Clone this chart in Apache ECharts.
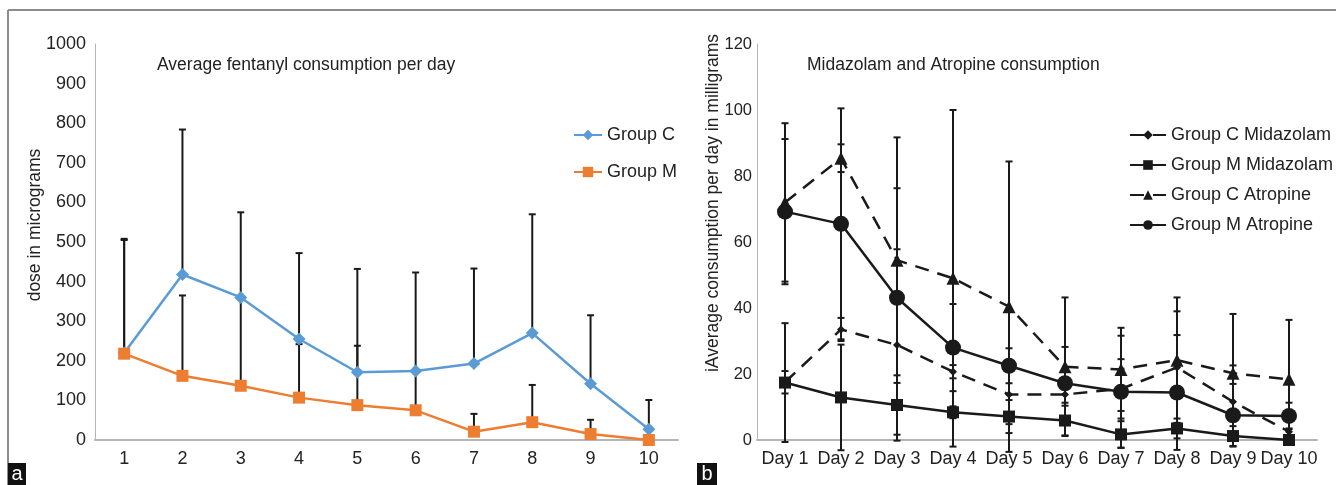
<!DOCTYPE html>
<html>
<head>
<meta charset="utf-8">
<script src="https://cdn.jsdelivr.net/npm/echarts@6/dist/echarts.min.js"></script>
<style>
  html, body { margin: 0; padding: 0; background: #fff; }
  #chart { width: 1336px; height: 485px; }
</style>
</head>
<body>
<div id="chart"></div>
<script>
// panel a: fentanyl, micrograms
var fentDays = ['1', '2', '3', '4', '5', '6', '7', '8', '9', '10'];
var groupC = [220, 418, 360, 255, 171, 174, 193, 270, 142, 27];
var groupCUpper = [508, 784, 575, 472, 432, 423, 433, 570, 315, 101];
var groupM = [218, 162, 137, 107, 88, 75, 21, 45, 15, 0];
var groupMUpper = [505, 365, 355, 242, 238, 175, 66, 139, 51, 0];

// panel b: midazolam / atropine, milligrams (mean and +/- error)
var dayLabels = ['Day 1', 'Day 2', 'Day 3', 'Day 4', 'Day 5', 'Day 6', 'Day 7', 'Day 8', 'Day 9', 'Day 10'];
var cMidaz = [17.5, 33.5, 28.8, 20.7, 13.8, 13.8, 15.5, 22, 11.6, 2.5];
var cMidazErr = [3.4, 3.5, 29, 2, 9, 2.5, 9, 17, 11, 1];
var mMidaz = [17.4, 12.9, 10.6, 8.4, 7.1, 5.9, 1.7, 3.5, 1.2, 0];
var mMidazErr = [18, 16, 9, 1.8, 5, 4.5, 4, 3, 3, 0];
var cAtro = [72, 85.4, 54.5, 49, 40.4, 22.2, 21.4, 24.2, 20.2, 18.4];
var cAtroErr = [24, 4.2, 37.2, 51, 44, 21, 12.6, 19, 18, 18];
var mAtro = [69.2, 65.5, 43.1, 28, 22.5, 17.2, 14.6, 14.4, 7.5, 7.3];
var mAtroErr = [22, 35, 33.2, 13.2, 5.3, 11, 17, 17.4, 9.5, 4];

var FONT = 'Liberation Sans, Arial, sans-serif';
var INK = '#1a1a1a';
var TXT = '#222';

function upperBars(mean, upper) {
    var out = [];
    for (var i = 0; i < mean.length; i++) {
        if (upper[i] > mean[i]) out.push([i, mean[i], upper[i], 0]);
    }
    return out;
}

function bothBars(mean, err) {
    var out = [];
    for (var i = 0; i < mean.length; i++) {
        if (err[i] > 0) out.push([i, mean[i] - err[i], mean[i] + err[i], 1]);
    }
    return out;
}

function renderErr(params, api) {
    var i = api.value(0);
    var lo = api.coord([i, api.value(1)]);
    var hi = api.coord([i, api.value(2)]);
    var w = 3.5;
    var style = { stroke: INK, lineWidth: 2 };
    var kids = [
        { type: 'line', shape: { x1: hi[0], y1: hi[1], x2: lo[0], y2: lo[1] }, style: style },
        { type: 'line', shape: { x1: hi[0] - w, y1: hi[1], x2: hi[0] + w, y2: hi[1] }, style: style }
    ];
    if (api.value(3)) {
        kids.push({ type: 'line', shape: { x1: lo[0] - w, y1: lo[1], x2: lo[0] + w, y2: lo[1] }, style: style });
    }
    return { type: 'group', children: kids };
}

function errSeries(data, idx) {
    return {
        type: 'custom',
        xAxisIndex: idx,
        yAxisIndex: idx,
        renderItem: renderErr,
        encode: { x: 0, y: [1, 2] },
        data: data,
        silent: true,
        z: 1
    };
}

function catAxis(idx, labels) {
    return {
        type: 'category',
        gridIndex: idx,
        data: labels,
        boundaryGap: true,
        axisLine: { lineStyle: { color: '#b5b5b5', width: 2 } },
        axisTick: { show: false },
        axisLabel: { color: TXT, fontSize: 18, fontFamily: FONT, margin: 10, interval: 0 }
    };
}

function valAxis(idx, max, step, gap, size) {
    return {
        type: 'value',
        gridIndex: idx,
        min: 0,
        max: max,
        interval: step,
        axisLine: { show: true, lineStyle: { color: '#b5b5b5', width: 1 } },
        axisTick: { show: false },
        splitLine: { show: false },
        axisLabel: { color: TXT, fontSize: size, fontFamily: FONT, margin: gap,
                     formatter: function (v) { return String(v); } }
    };
}

var chart = echarts.init(document.getElementById('chart'));

chart.setOption({
    animation: false,
    backgroundColor: '#fff',
    textStyle: { fontFamily: FONT },
    title: [
        { text: 'Average fentanyl consumption per day', left: 152, top: 51,
          textStyle: { fontSize: 17.5, fontWeight: 'normal', color: TXT, fontFamily: FONT } },
        { text: 'Midazolam and Atropine consumption', left: 802, top: 51,
          textStyle: { fontSize: 17.5, fontWeight: 'normal', color: TXT, fontFamily: FONT } }
    ],
    legend: [
        {
            data: ['Group C', 'Group M'],
            orient: 'vertical',
            left: 568, top: 121,
            itemWidth: 28, itemHeight: 13, itemGap: 19,
            textStyle: { fontSize: 18, color: TXT, fontFamily: FONT }
        },
        {
            data: ['Group C Midazolam', 'Group M Midazolam', 'Group C Atropine', 'Group M Atropine'],
            orient: 'vertical',
            left: 1124, top: 121,
            itemWidth: 36, itemHeight: 12, itemGap: 12,
            textStyle: { fontSize: 18, color: TXT, fontFamily: FONT }
        }
    ],
    grid: [
        { left: 95, right: 658, top: 44, bottom: 45 },
        { left: 757, right: 19, top: 44, bottom: 45 }
    ],
    xAxis: [catAxis(0, fentDays), catAxis(1, dayLabels)],
    yAxis: [valAxis(0, 1000, 100, 9, 18), valAxis(1, 120, 20, 5, 16.5)],
    graphic: [
        { type: 'line', shape: { x1: 8, y1: 10, x2: 1336, y2: 10 }, style: { stroke: '#8c8c8c', lineWidth: 2 } },
        { type: 'line', shape: { x1: 8, y1: 10, x2: 8, y2: 485 }, style: { stroke: '#8c8c8c', lineWidth: 2 } },
        { type: 'text', x: 35, y: 225, rotation: Math.PI / 2,
          style: { text: 'dose in micrograms', fill: TXT, font: '17.5px ' + FONT, align: 'center', verticalAlign: 'middle' } },
        { type: 'text', x: 713, y: 203, rotation: Math.PI / 2,
          style: { text: 'iAverage consumption per day in milligrams', fill: TXT, font: '17.5px ' + FONT, align: 'center', verticalAlign: 'middle' } },
        { type: 'rect', shape: { x: 8, y: 463, width: 18, height: 22 }, style: { fill: '#111' } },
        { type: 'text', x: 17, y: 474, style: { text: 'a', fill: '#fff', font: '20px ' + FONT, align: 'center', verticalAlign: 'middle' } },
        { type: 'rect', shape: { x: 697, y: 463, width: 20, height: 22 }, style: { fill: '#111' } },
        { type: 'text', x: 707, y: 474, style: { text: 'b', fill: '#fff', font: '20px ' + FONT, align: 'center', verticalAlign: 'middle' } }
    ],
    series: [
        errSeries(upperBars(groupC, groupCUpper), 0),
        errSeries(upperBars(groupM, groupMUpper), 0),
        {
            name: 'Group C', type: 'line', xAxisIndex: 0, yAxisIndex: 0,
            data: groupC, symbol: 'diamond', symbolSize: 13,
            lineStyle: { color: '#5B9BD5', width: 2.5 },
            itemStyle: { color: '#5B9BD5' }, z: 3
        },
        {
            name: 'Group M', type: 'line', xAxisIndex: 0, yAxisIndex: 0,
            data: groupM, symbol: 'rect', symbolSize: 12,
            lineStyle: { color: '#ED7D31', width: 2.5 },
            itemStyle: { color: '#ED7D31' }, z: 3
        },
        errSeries(bothBars(cMidaz, cMidazErr), 1),
        errSeries(bothBars(mMidaz, mMidazErr), 1),
        errSeries(bothBars(cAtro, cAtroErr), 1),
        errSeries(bothBars(mAtro, mAtroErr), 1),
        {
            name: 'Group C Midazolam', type: 'line', xAxisIndex: 1, yAxisIndex: 1,
            data: cMidaz, symbol: 'diamond', symbolSize: 8,
            lineStyle: { color: INK, width: 2.5, type: [14, 9] },
            itemStyle: { color: INK }, z: 3
        },
        {
            name: 'Group M Midazolam', type: 'line', xAxisIndex: 1, yAxisIndex: 1,
            data: mMidaz, symbol: 'rect', symbolSize: 12,
            lineStyle: { color: INK, width: 2.5 },
            itemStyle: { color: INK }, z: 3
        },
        {
            name: 'Group C Atropine', type: 'line', xAxisIndex: 1, yAxisIndex: 1,
            data: cAtro, symbol: 'triangle', symbolSize: 13,
            lineStyle: { color: INK, width: 2.5, type: [14, 9] },
            itemStyle: { color: INK }, z: 3
        },
        {
            name: 'Group M Atropine', type: 'line', xAxisIndex: 1, yAxisIndex: 1,
            data: mAtro, symbol: 'circle', symbolSize: 16,
            lineStyle: { color: INK, width: 2.5 },
            itemStyle: { color: INK }, z: 3
        }
    ]
});
</script>
</body>
</html>
